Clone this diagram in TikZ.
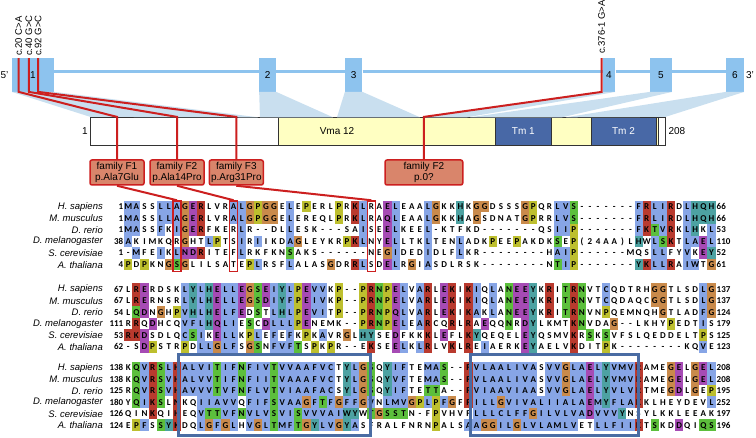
\documentclass[tikz,border=0pt]{standalone}
\usepackage{fontspec}
\setmainfont{Liberation Sans}
\newfontfamily\resfont{Carlito}
\usetikzlibrary{positioning}
\definecolor{exonblue}{HTML}{8DC3EE}
\definecolor{mapblue}{HTML}{C9DFEF}
\definecolor{mutred}{HTML}{CC1F1F}
\definecolor{famfill}{HTML}{D9856B}
\definecolor{vmayellow}{HTML}{FFFFC2}
\definecolor{tmblue}{HTML}{4868A6}
\definecolor{tmedge}{HTML}{4A6CA3}
\definecolor{resb}{HTML}{87A5E6}
\definecolor{resr}{HTML}{B93A2E}
\definecolor{resm}{HTML}{A64BB4}
\definecolor{resg}{HTML}{5CBF3C}
\definecolor{reso}{HTML}{C98A4B}
\definecolor{resy}{HTML}{BDBF2E}
\definecolor{resc}{HTML}{4DA2A2}

\makeatletter
\newcount\alncol
\newcommand{\alnrow}[5]{%
  \node[spname] at (103,#1) {#2};
  \node[numlab, anchor=east] at (123.5,#1) {#3};
  \node[numlab, anchor=west] at (716.5,#1) {#4};
  \def\aln@y{#1}\alncol=0
  \aln@next#5\aln@stop\aln@stop}
\def\aln@stop{aln@stop}
\def\aln@next#1#2{%
  \ifx\aln@stop#1\expandafter\@gobble\else\expandafter\@firstofone\fi
  {\aln@cell{#1}{#2}\aln@next}}
\def\aln@cell#1#2{%
  \advance\alncol by 1
  \if w#2\else
    \fill[res#2] ({124.25+(\the\alncol-1)*8.1},\aln@y-5.8) rectangle ++(8.1,11.6);
  \fi
  \node[res] at ({128.3+(\the\alncol-1)*8.1},\aln@y) {#1};}
\makeatother

\begin{document}
\begin{tikzpicture}[
  x=1pt, y=-1pt,
  exon/.style    = {fill=exonblue, inner sep=0pt, minimum height=33.4pt, font=\fontsize{10}{10}\selectfont},
  backbone/.style = {exonblue, line width=3pt},
  mapfill/.style = {fill=mapblue},
  cdna/.style    = {rotate=90, anchor=west, inner sep=0pt, font=\fontsize{9.5}{10}\selectfont},
  endlab/.style  = {inner sep=0pt, font=\fontsize{10}{10}\selectfont},
  mut/.style     = {mutred, line width=2pt},
  dompart/.style = {draw=black!80, line width=0.8pt, inner sep=0pt, minimum height=27.7pt, font=\fontsize{10}{10}\selectfont},
  fam/.style     = {draw=mutred, fill=famfill, line width=1.5pt, rounded corners=2pt, align=center,
                    inner sep=1pt, minimum height=25pt, font=\fontsize{10}{11.2}\selectfont},
  hlbox/.style   = {draw=mutred, line width=1.3pt, inner sep=0pt, minimum width=8.1pt, minimum height=70.8pt},
  tmframe/.style = {draw=tmedge, line width=3pt, inner sep=0pt, minimum height=81.2pt},
  res/.style     = {inner sep=0pt, text height=5.8pt, text depth=0pt, font=\resfont\bfseries\fontsize{9}{9}\selectfont},
  numlab/.style  = {inner sep=0pt, text height=5.8pt, text depth=0pt, font=\resfont\bfseries\fontsize{9}{9}\selectfont},
  spname/.style  = {anchor=east, inner sep=0pt, font=\itshape\fontsize{9.5}{10}\selectfont},
]
  \useasboundingbox (0,0) rectangle (756,438);

  % gene structure
  \node[exon, minimum width=42pt]   (ex1) at (33,75)    {1};
  \node[exon, minimum width=16.7pt] (ex2) at (267.7,75) {2};
  \node[exon, minimum width=17.3pt] (ex3) at (353.7,75) {3};
  \node[exon, minimum width=12.6pt] (ex4) at (609,75)   {4};
  \node[exon, minimum width=22pt]   (ex5) at (661,75)   {5};
  \node[exon, minimum width=18pt]   (ex6) at (735,75)   {6};
  \node[endlab] (five)  at (4.5,75) {5'};
  \node[endlab] (three) at (750,75) {3'};
  \coordinate (bb) at (0,71.7);
  \draw[backbone] (ex1.east |- bb) -- (ex2.west |- bb);
  \draw[backbone] (ex2.east |- bb) -- (ex3.west |- bb);
  \draw[backbone] (ex3.east |- bb) -- (ex4.west |- bb);
  \draw[backbone] (ex4.east |- bb) -- (ex5.west |- bb);
  \draw[backbone] (ex5.east |- bb) -- (ex6.west |- bb);

  % protein
  \node[dompart, fill=white, minimum width=574.3pt] (dom) at (377.85,131.15) {};
  \node[dompart, fill=vmayellow, minimum width=380pt] (vma) at (468,131.15) {};
  \node[dompart, fill=tmblue, text=white, minimum width=56.7pt] (tm1) at (523.35,131.15) {Tm 1};
  \node[dompart, fill=tmblue, text=white, minimum width=65pt]   (tm2) at (623.5,131.15)  {Tm 2};
  \node[endlab] (vmalab) at (337,131.15) {Vma 12};
  \node[endlab, left=2.5pt of dom]  (aa1)   {1};
  \node[endlab, right=3pt of dom]   (aa208) {208};

  \fill[mapfill] (ex1.south west) -- (ex1.south east) -- (258,117.3) -- (dom.north west) -- cycle;
  \fill[mapfill] (ex2.south west) -- (ex2.south east) -- (333,117.3) -- (260,117.3) -- cycle;
  \fill[mapfill] (ex3.south west) -- (ex3.south east) -- (420,117.3) -- (337,117.3) -- cycle;
  \fill[mapfill] (ex4.south west) -- (ex4.south east) -- (467,117.3) -- (423.3,117.3) -- cycle;
  \fill[mapfill] (ex5.south west) -- (ex5.south east) -- (562,117.3) -- (470,117.3) -- cycle;
  \fill[mapfill] (ex6.south west) -- (ex6.south east) -- (dom.north east) -- (566,117.3) -- cycle;

  % variants
  \node[cdna] (c20)  at (18.7,56)  {c.20 C>A};
  \node[cdna] (c40)  at (28.8,56)  {c.40 G>C};
  \node[cdna] (c92)  at (38.2,56)  {c.92 G>C};
  \node[cdna] (c376) at (601.7,54) {c.376-1 G>A};

  \node[fam, minimum width=54pt]   (f1) at (117,172.5)   {family F1\\p.Ala7Glu};
  \node[fam, minimum width=54pt]   (f2) at (177,172.5)   {family F2\\p.Ala14Pro};
  \node[fam, minimum width=54pt]   (f3) at (236.3,172.5) {family F3\\p.Arg31Pro};
  \node[fam, minimum width=77.7pt] (f4) at (423.9,172.5) {family F2\\p.0?};

  \draw[mut] (c20.west |- ex1.north) -- (c20.west |- ex1.south) -- (f1.north |- dom.north) -- (f1.north);
  \draw[mut] (c40.west |- ex1.north) -- (c40.west |- ex1.south) -- (f2.north |- dom.north) -- (f2.north);
  \draw[mut] (c92.west |- ex1.north) -- (c92.west |- ex1.south) -- (f3.north |- dom.north) -- (f3.north);
  \draw[mut] (c376.west |- ex4.north) -- (c376.west |- ex4.south) -- (f4.north |- dom.north) -- (f4.north);

  % alignment
  \alnrow{206.7}{H. sapiens}{1}{66}{
    Mb Ab Sw Sw Lb Lb Ab Go Em Rr Lw Vw Rw Ab Lb Go Py Go Go Ew
    Lb Ew Py Ew Rw Lw Py Rw Kr Lb Rw Aw Em Lb Ew Aw Aw Lb Go Kw
    Kw Hc Kw Go Go Dw Sw Sw Sw Go Py Qw Rw Lb Vb Sg -w -w -w -w
    -w -w -w Fb Rr Lb Ib Rr Dw Lb Hc Qc Hc}
  \alnrow{218.3}{M. musculus}{1}{66}{
    Mb Ab Sw Sw Lb Lb Ab Go Em Rr Lw Vw Rw Ab Lb Go Py Go Go Ew
    Lb Ew Rw Ew Qw Lw Py Rw Kr Lb Rw Aw Qm Lb Ew Aw Aw Lb Go Kw
    Kw Hc Aw Go Sw Dw Nw Aw Tw Go Py Rw Rw Lb Vb Sg -w -w -w -w
    -w -w -w Fb Rr Lb Ib Rr Dw Lb Hc Qc Hc}
  \alnrow{229.9}{D. rerio}{1}{53}{
    Mb Ab Sw Sw Fb Kw Ib Go Em Rr Fw Kw Ew Rw Lb Rw -w -w Dw Lw
    Lb Ew Sw Kw -w -w -w Sw Aw Ib Sw Ew Em Lb Kw Ew Ew Lb -w Kw
    Tw Fw Kw Dw -w -w -w -w -w -w -w Qw Sw Ib Ib Py -w -w -w -w
    -w -w -w Fb Kr Tg Vb Rr Kw Lb Hc Kw Lb}
  \alnrow{241.5}{D. melanogaster}{38}{110}{
    Ab Kw Iw Mw Kw Qw Rw Go Hw Tw Lb Py Tw Sw Ib Rw Ib Iw Kw Dw
    Ab Go Lw Ew Yw Kw Rw Py Kr Lb Nw Yw Em Lb Lw Tw Kw Lb Tw Ew
    Nw Lb Aw Dw Kw Py Ew Ew Py Aw Kw Dw Kw Sg Ew Py (w 2w 4w Aw
    Aw )w Lw Hc Ww Lb Sg Kr Tw Lb Ab Em Lb}
  \alnrow{253.1}{S. cerevisiae}{1}{52}{
    -w Mb Fw Ew Ib Kw Lb Nm Dm Rr Iw Tw Ew Fw Lb Rw Kw Fw Kw Nw
    Sg Aw Kw Sw -w -w -w -w -w -w Nw Ew Go Ib Dw Ew Dw Ib Dw Lw
    Fw Lb Kw Rw -w -w -w -w -w -w -w -w Hw Ab Ib Py -w -w -w -w
    -w -w Mw Qw Sw Lb Lb Fw Yw Vb Kw Em Yc}
  \alnrow{264.7}{A. thaliana}{4}{61}{
    Py Dw Py Kw Nw Go Sg Go Lw Iw Lw Sw Aw Tw Ew Py Lb Rw Sw Fw
    Lb Aw Lw Aw Sw Go Dw Rw Rr Lb Sw Dw Em Lb Rw Go Iw Ab Sw Dw
    Lw Rw Sw Kw -w -w -w -w -w -w -w -w Nw Tg Ib Py -w -w -w -w
    -w -w -w Yc Kr Lb Lb Rr Aw Ib Wb Tw Go}

  \alnrow{289.3}{H. sapiens}{67}{137}{
    Lw Rr Em Rw Dw Sw Kw Lb Yc Lb Hc Em Lb Lb Em Go Sg Em Ib Yc
    Lb Py Em Vb Vb Kw Py -w -w Py Rr Ng Py Em Lb Vw Ab Rr Lw Em
    Kr Iw Kr Ib Qw Lb Aw Ng Em Em Yc Kw Rr Iw Tg Rr Ng Vw Tw Cb
    Qw Dw Tw Rw Hw Go Go Tw Lw Sw Dw Lb Go}
  \alnrow{300.8}{M. musculus}{67}{137}{
    Lw Rr Em Rw Nw Sw Rw Lb Yc Lb Hc Em Lb Lb Em Go Sg Dm Ib Yc
    Fb Py Em Ib Vb Kw Py -w -w Py Rr Ng Py Em Lb Vw Ab Rr Lw Em
    Kr Iw Kr Ib Qw Lb Aw Ng Em Em Yc Kw Rr Iw Tg Rr Ng Vw Tw Cb
    Qw Dw Aw Qw Cw Go Go Tw Lw Sw Dw Lb Go}
  \alnrow{312.3}{D. rerio}{54}{124}{
    Lw Qg Dm Nw Go Hw Py Vb Hc Lb Hc Em Lb Fb Em Dw Sg Tw Lb Hc
    Lb Py Em Vb Ib Tw Py -w -w Py Rr Ng Py Qm Lb Vw Ab Rr Lw Em
    Kr Iw Kr Ab Kw Lb Aw Ng Em Em Yc Kw Rr Iw Tg Rr Ng Vw Nw Py
    Qw Ew Mw Nw Qw Hw Go Tw Lw Aw Dw Fb Go}
  \alnrow{323.8}{D. melanogaster}{111}{179}{
    Rw Rr Qw Dm Hw Cw Qw Vb Fb Lb Hc Qm Lb Ib Ew Sg Cw Dm Lb Lb
    Lb Py Em Nw Ew Mw Kw -w -w Py Rr Ng Py Em Lb Ew Ab Rr Cw Qw
    Rr Lw Rr Aw Em Qw Qw Ng Rw Dm Yc Lw Kw Mw Tw Kr Ng Vw Dw Aw
    Go -w -w Lw Kw Hw Yw Py Ew Dw Tw Ib Sw}
  \alnrow{335.3}{S. cerevisiae}{53}{125}{
    Rr Kr Dm Sw Dw Lw Qw Cb Sg Ib Kw Em Lb Lb Kw Py Lb Ew Fb Ew
    Fb Kw Py Kw Ab Vw Rw Go Lw Hc Yc Sw Ew Dm Fw Kw Kw Kr Lw Em
    Fw Lw Kr Yc Qw Ew Qw Ew Lw Em Yc Qw Sw Mw Vw Kr Rw Sg Kw Sg
    Vw Fw Sw Lw Qw Ew Dw Dw Ew Lw Tw Py Sw}
  \alnrow{346.8}{A. thaliana}{62}{123}{
    -w Sw Dm Py Sw Tw Rw Py Dw Lb Lb Go Lb Fb Sw Go Sg Nw Fb Vb
    Fb Tg Sw Py Kw Py Rw -w -w Ew Kr Sw Ew Em Lb Kw Lb Rr Lw Vw
    Kr Lw Rr Ew Ib Aw Ew Rw Kw Em Yc Aw Ew Lw Vw Kr Dw Iw Tw Py
    Kw -w -w -w -w -w -w -w -w Kw Qw Vb Ew}

  \alnrow{367.7}{H. sapiens}{138}{208}{
    Kw Qg Vb Rr Sg Lb Hr Ab Lb Vb Ib Tg Ib Fb Ng Fb Ib Vb Tg Vb
    Vb Ab Ab Fb Vb Cb Tw Yc Lb Go Sg Qw Yc Ib Fb Tw Ew Mb Ab Sg
    -w -w Fr Vb Lb Ab Ab Lb Ib Vb Ab Sw Vb Vb Go Lb Ab Em Lb Yc
    Vb Mb Vb Rr Aw Mw Ew Go Em Lw Go Em Lb}
  \alnrow{379.2}{M. musculus}{138}{208}{
    Kw Qg Vb Rr Sg Vb Hr Ab Lb Vb Vb Tg Ib Fb Ng Fb Ib Ib Tg Vb
    Ab Ab Ab Fb Vb Cb Tw Yc Lb Go Sg Qw Yc Vb Fb Tw Ew Mb Ab Sg
    -w -w Fr Vb Lb Ab Ab Lb Ib Vb Ab Sw Vb Vb Go Lb Ab Em Lb Yc
    Vb Mb Vb Rr Aw Mw Ew Go Em Lw Go Em Lb}
  \alnrow{390.7}{D. rerio}{125}{195}{
    Rw Qg Vb Rr Sg Vb Hr Ab Vb Vb Vb Tg Vb Fb Ng Fb Lb Vb Tg Vb
    Ib Ab Ab Fb Ab Cb Sw Yc Lb Go Sg Qw Yc Ib Fb Tw Ew Tg Tg Aw
    -w -w Fr Vb Ib Ab Ab Vb Ib Ab Ab Sw Vb Vb Go Lb Ab Em Lb Yc
    Vb Lb Vb Rr Tw Mw Ew Go Dm Lw Go Ew Py}
  \alnrow{402.2}{D. melanogaster}{180}{252}{
    Yw Qg Ib Kr Sg Lw Nr Kw Qw Ib Ib Ab Vb Vb Qw Fb Ib Fb Sg Vb
    Ab Ab Go Fb Tg Fb Go Fb Fb Go Vb Nw Lb Mb Vb Go Py Lb Py Fb
    Go Fw Fr Ib Lb Lb Go Vb Ib Vb Ab Lb Ib Ib Ab Lb Ab Em Mb Yc
    Fb Lb Ab Kr Kw Lw Hw Ew Yw Dw Ew Vw Lb}
  \alnrow{413.7}{S. cerevisiae}{126}{197}{
    Qw Iw Nw Kr Qw Iw Hr Ew Qw Vb Tg Tg Vb Fb Ng Vb Lb Vb Sg Vb
    Ib Sg Vb Vb Vb Ab Ib Wc Yc Ww Tg Go Sg Sg Tg Nw -w Fw Py Vw
    Hw Vw Fw Lb Lb Lb Cb Lb Fb Fb Go Ib Lb Vb Lb Vb Ab Dm Vb Vb
    Vb Yc Nw Sw Yw Lw Kw Kw Lw Ew Ew Aw Kw}
  \alnrow{425.2}{A. thaliana}{124}{196}{
    Ew Py Fb Sw Sg Yc Kr Dw Qw Lb Go Fb Go Lb Hw Vb Go Lb Tg Mb
    Fb Tg Go Yc Lb Vb Go Yc Ab Sw Fw Rw Aw Lw Fw Nw Rw Nw Py Aw
    Lw Sw Ab Ab Go Go Ib Lb Go Lb Vb Lb Ab Mb Lb Vb Ew Tw Lb Lb
    Fb Ib Ib Kr Tw Sg Kw Dw Dm Qw Iw Qg Sg}

  % highlighted residues and membrane spans
  \node[hlbox] (hl1) at (176.9,236.3) {};
  \node[hlbox] (hl2) at (233.6,236.3) {};
  \node[hlbox] (hl3) at (371.3,236.3) {};
  \draw[mut] (f1.south) -- (hl1.north);
  \draw[mut] (f2.south) -- (hl2.north);
  \draw[mut] (f3.south) -- (hl3.north);

  \node[tmframe, minimum width=191.5pt] (tmA) at (274.25,394.9) {};
  \node[tmframe, minimum width=168.6pt] (tmB) at (554.3,394.9)  {};
\end{tikzpicture}
\end{document}
